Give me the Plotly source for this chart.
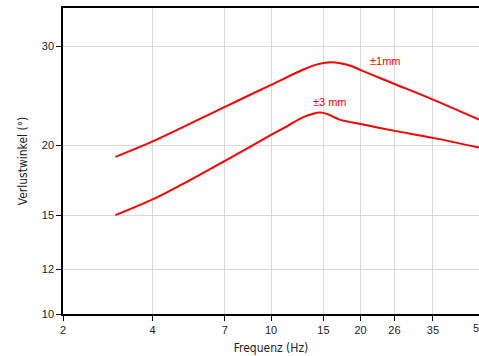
import math
import plotly.graph_objects as go

# Loss angle vs. frequency for two amplitudes
freq_1mm = [3, 4, 7, 10, 12.9, 14.3, 15.9, 18.5, 20, 26, 35, 50]
loss_1mm = [19.05, 20.3, 23.4, 25.6, 27.3, 27.85, 28.1, 27.7, 27.2, 25.7, 24.1, 22.2]

freq_3mm = [3, 4, 5, 7, 10, 11.3, 12.9, 14.6, 15.5, 17, 20, 26, 35, 50]
loss_3mm = [15.0, 16.0, 17.0, 18.75, 20.85, 21.6, 22.45, 22.85, 22.7, 22.2, 21.8, 21.2, 20.6, 19.8]

x_ticks = [2, 4, 7, 10, 15, 20, 26, 35, 50]
y_ticks = [10, 12, 15, 20, 30]

label_1mm = "±1mm"
label_3mm = "±3 mm"

RED = "#ff0000"
GRID = "#d9d9d9"
tick_font = dict(family="Liberation Sans, Arial, sans-serif", size=11, color="#222")
title_font = dict(family="DejaVu Sans Condensed, Liberation Sans Narrow, sans-serif", size=12, color="#222")
label_font = dict(family="Liberation Sans, Arial, sans-serif", size=11, color=RED)

fig = go.Figure()
for fx, fy in ((freq_1mm, loss_1mm), (freq_3mm, loss_3mm)):
    fig.add_trace(go.Scatter(
        x=fx, y=fy, mode="lines",
        line=dict(color=RED, width=2, shape="spline", smoothing=0.9),
        hoverinfo="skip", showlegend=False,
    ))

fig.add_annotation(x=math.log10(21.2), y=math.log10(28.25), text=label_1mm,
                   showarrow=False, xanchor="left", yanchor="middle", font=label_font)
fig.add_annotation(x=math.log10(15.8), y=math.log10(23.9), text=label_3mm,
                   showarrow=False, xanchor="center", yanchor="middle", font=label_font)

# the last tick label sits on the right edge; plotly drops it, so place it explicitly
fig.add_annotation(x=math.log10(x_ticks[-1]), xref="x", y=0, yref="paper",
                   text=str(x_ticks[-1]), showarrow=False, xanchor="center",
                   yanchor="top", yshift=-6, font=tick_font)

fig.update_layout(
    width=479, height=356,
    margin=dict(l=63, r=0, t=8, b=42),
    paper_bgcolor="white", plot_bgcolor="white",
    xaxis=dict(
        type="log", range=[math.log10(2), math.log10(50)],
        tickmode="array", tickvals=x_ticks, ticktext=[str(v) for v in x_ticks],
        showgrid=True, gridcolor=GRID, gridwidth=1,
        showline=True, linecolor="black", linewidth=1.5, mirror=True,
        ticks="outside", ticklen=5, tickcolor="black", tickwidth=1,
        tickfont=tick_font,
        title=dict(text="Frequenz (Hz)", font=title_font, standoff=9),
        zeroline=False,
    ),
    yaxis=dict(
        type="log", range=[1, math.log10(35.1)],
        tickmode="array", tickvals=y_ticks, ticktext=[str(v) for v in y_ticks],
        showgrid=True, gridcolor=GRID, gridwidth=1,
        showline=True, linecolor="black", linewidth=1.5, mirror=False,
        ticks="outside", ticklen=5, tickcolor="black", tickwidth=1,
        tickfont=tick_font,
        title=dict(text="Verlustwinkel (°)", font=title_font, standoff=12),
        zeroline=False,
    ),
)

fig.write_html("out.html")
